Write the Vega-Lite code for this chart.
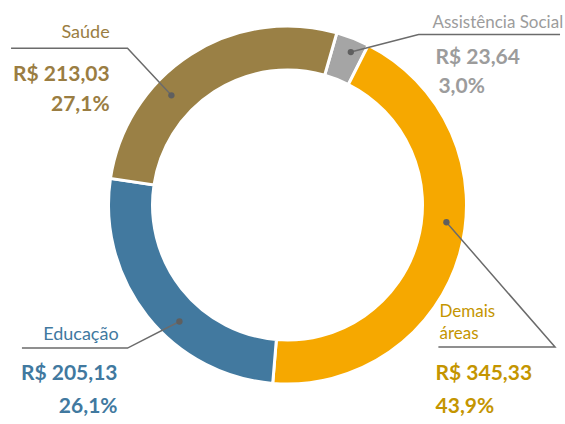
{
  "$schema": "https://vega.github.io/schema/vega-lite/v6.json",
  "width": 565,
  "height": 424,
  "autosize": {"type": "fit", "contains": "padding"},
  "padding": {"left": 8, "right": 0, "top": 0, "bottom": 7},
  "background": "white",
  "config": {"view": {"stroke": null}, "text": {"font": "Lato"}},
  "datasets": {
    "slices": [
      {"cat": "Assistência Social", "ord": 1, "value": 23.64},
      {"cat": "Demais áreas", "ord": 2, "value": 345.33},
      {"cat": "Educação", "ord": 3, "value": 205.13},
      {"cat": "Saúde", "ord": 4, "value": 213.03}
    ],
    "leaders": [
      {"cat": "Saúde", "ord": 1, "u": -0.651, "v": 0.623},
      {"cat": "Saúde", "ord": 2, "u": -0.897, "v": 0.891},
      {"cat": "Saúde", "ord": 3, "u": -1.55, "v": 0.891},
      {"cat": "Assistência Social", "ord": 1, "u": 0.355, "v": 0.869},
      {"cat": "Assistência Social", "ord": 2, "u": 0.735, "v": 0.969},
      {"cat": "Assistência Social", "ord": 3, "u": 1.528, "v": 0.969},
      {"cat": "Educação", "ord": 1, "u": -0.606, "v": -0.662},
      {"cat": "Educação", "ord": 2, "u": -0.897, "v": -0.813},
      {"cat": "Educação", "ord": 3, "u": -1.489, "v": -0.813},
      {"cat": "Demais áreas", "ord": 1, "u": 0.891, "v": -0.098},
      {"cat": "Demais áreas", "ord": 2, "u": 1.5, "v": -0.807},
      {"cat": "Demais áreas", "ord": 3, "u": 0.846, "v": -0.807}
    ],
    "labels": [
      {"cat": "Saúde", "kind": "name", "side": "R", "u": -0.997, "v": 0.947, "text": "Saúde"},
      {"cat": "Saúde", "kind": "value", "side": "R", "u": -0.997, "v": 0.707, "text": "R$ 213,03"},
      {"cat": "Saúde", "kind": "value", "side": "R", "u": -0.997, "v": 0.534, "text": "27,1%"},
      {"cat": "Assistência Social", "kind": "name", "side": "L", "u": 0.813, "v": 1.003, "text": "Assistência Social"},
      {"cat": "Assistência Social", "kind": "value", "side": "L", "u": 0.83, "v": 0.802, "text": "R$ 23,64"},
      {"cat": "Assistência Social", "kind": "value", "side": "L", "u": 0.846, "v": 0.634, "text": "3,0%"},
      {"cat": "Educação", "kind": "name", "side": "R", "u": -0.947, "v": -0.768, "text": "Educação"},
      {"cat": "Educação", "kind": "value", "side": "R", "u": -0.953, "v": -0.997, "text": "R$ 205,13"},
      {"cat": "Educação", "kind": "value", "side": "R", "u": -0.953, "v": -1.181, "text": "26,1%"},
      {"cat": "Demais áreas", "kind": "name", "side": "L", "u": 0.852, "v": -0.634, "text": "Demais"},
      {"cat": "Demais áreas", "kind": "name", "side": "L", "u": 0.852, "v": -0.763, "text": "áreas"},
      {"cat": "Demais áreas", "kind": "value", "side": "L", "u": 0.83, "v": -0.997, "text": "R$ 345,33"},
      {"cat": "Demais áreas", "kind": "value", "side": "L", "u": 0.83, "v": -1.181, "text": "43,9%"}
    ]
  },
  "layer": [
    {
      "data": {"name": "slices"},
      "mark": {"type": "arc", "radius": 179, "radius2": 135, "stroke": "white", "strokeWidth": 3},
      "encoding": {
        "theta": {"field": "value", "type": "quantitative", "stack": true, "scale": {"range": [0.279, 6.5622]}},
        "order": {"field": "ord", "type": "quantitative"},
        "color": {
          "field": "cat", "type": "nominal", "legend": null,
          "scale": {"domain": ["Assistência Social", "Demais áreas", "Educação", "Saúde"], "range": ["#A5A5A5", "#F6A800", "#42799F", "#9A8045"]}
        }
      }
    },
    {
      "data": {"name": "leaders"},
      "mark": {"type": "line", "color": "#6B6B6B", "strokeWidth": 1.5},
      "encoding": {
        "x": {"field": "u", "type": "quantitative", "scale": {"domain": [-1.5559, 1.5559], "nice": false, "zero": false}, "axis": null},
        "y": {"field": "v", "type": "quantitative", "scale": {"domain": [-1.1648, 1.1648], "nice": false, "zero": false}, "axis": null},
        "detail": {"field": "cat"},
        "order": {"field": "ord", "type": "quantitative"}
      }
    },
    {
      "data": {"name": "leaders"},
      "transform": [{"filter": "datum.ord == 1"}],
      "mark": {"type": "point", "filled": true, "color": "#5F5F5F", "size": 40, "opacity": 1},
      "encoding": {
        "x": {"field": "u", "type": "quantitative"},
        "y": {"field": "v", "type": "quantitative"}
      }
    },
    {
      "data": {"name": "labels"},
      "transform": [{"filter": "datum.kind == 'name' && datum.side == 'R'"}],
      "mark": {"type": "text", "align": "right", "baseline": "alphabetic", "font": "Lato", "fontSize": 18},
      "encoding": {
        "x": {"field": "u", "type": "quantitative"},
        "y": {"field": "v", "type": "quantitative"},
        "text": {"field": "text"},
        "color": {"field": "cat", "type": "nominal", "legend": null,
          "scale": {"domain": ["Assistência Social", "Demais áreas", "Educação", "Saúde"], "range": ["#9C9C9C", "#C49500", "#41799F", "#9A7D42"]}}
      }
    },
    {
      "data": {"name": "labels"},
      "transform": [{"filter": "datum.kind == 'name' && datum.side == 'L'"}],
      "mark": {"type": "text", "align": "left", "baseline": "alphabetic", "font": "Lato", "fontSize": 17},
      "encoding": {
        "x": {"field": "u", "type": "quantitative"},
        "y": {"field": "v", "type": "quantitative"},
        "text": {"field": "text"},
        "color": {"field": "cat", "type": "nominal", "legend": null,
          "scale": {"domain": ["Assistência Social", "Demais áreas", "Educação", "Saúde"], "range": ["#9C9C9C", "#C49500", "#41799F", "#9A7D42"]}}
      }
    },
    {
      "data": {"name": "labels"},
      "transform": [{"filter": "datum.kind == 'value' && datum.side == 'R'"}],
      "mark": {"type": "text", "align": "right", "baseline": "alphabetic", "font": "Lato", "fontSize": 21, "fontWeight": "bold"},
      "encoding": {
        "x": {"field": "u", "type": "quantitative"},
        "y": {"field": "v", "type": "quantitative"},
        "text": {"field": "text"},
        "color": {"field": "cat", "type": "nominal", "legend": null,
          "scale": {"domain": ["Assistência Social", "Demais áreas", "Educação", "Saúde"], "range": ["#9C9C9C", "#C49500", "#41799F", "#9A7D42"]}}
      }
    },
    {
      "data": {"name": "labels"},
      "transform": [{"filter": "datum.kind == 'value' && datum.side == 'L'"}],
      "mark": {"type": "text", "align": "left", "baseline": "alphabetic", "font": "Lato", "fontSize": 21, "fontWeight": "bold"},
      "encoding": {
        "x": {"field": "u", "type": "quantitative"},
        "y": {"field": "v", "type": "quantitative"},
        "text": {"field": "text"},
        "color": {"field": "cat", "type": "nominal", "legend": null,
          "scale": {"domain": ["Assistência Social", "Demais áreas", "Educação", "Saúde"], "range": ["#9C9C9C", "#C49500", "#41799F", "#9A7D42"]}}
      }
    }
  ],
  "resolve": {"scale": {"color": "independent"}}
}
